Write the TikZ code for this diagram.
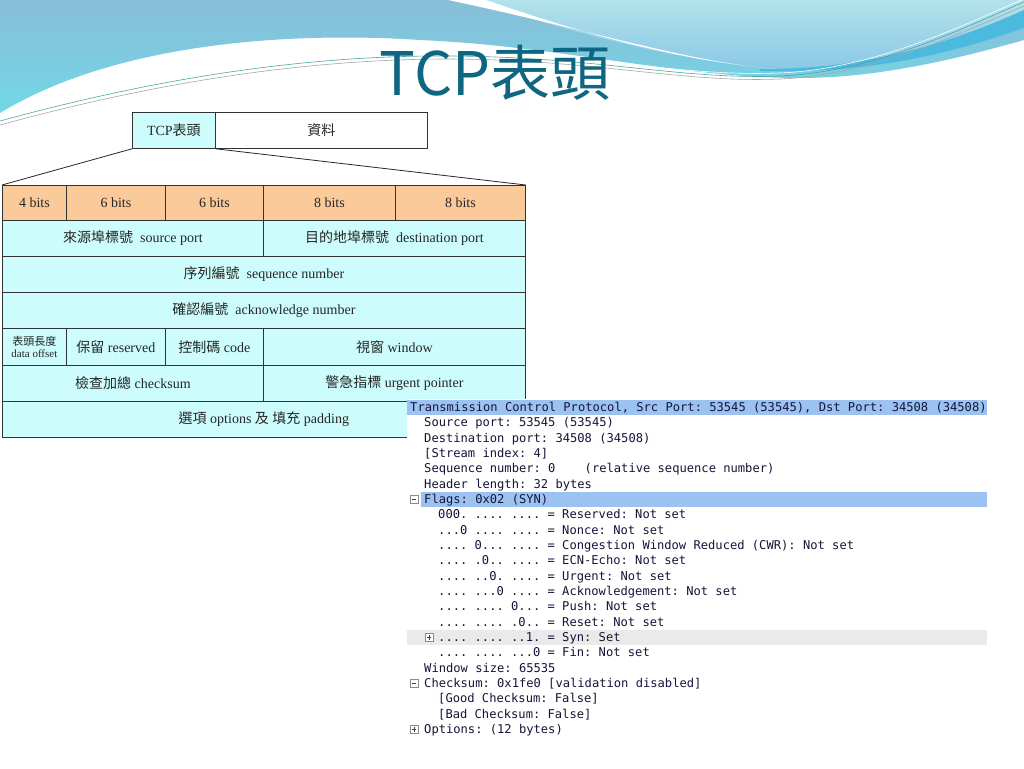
\documentclass[tikz,border=0pt]{standalone}
\usepackage{fontspec}
\setmainfont{Liberation Serif}
\newfontfamily\cjk{Noto Sans CJK TC}
\newfontfamily\wsmono{DejaVu Sans Mono}
\newcommand\zh[1]{{\cjk #1}}
\definecolor{skytop}{HTML}{88BDD8}
\definecolor{skylow}{HTML}{72D8E6}
\definecolor{paletop}{HTML}{B2E2EA}
\definecolor{palelow}{HTML}{8CC8E6}
\definecolor{waveband}{HTML}{4CBADF}
\definecolor{titleteal}{HTML}{0E6680}
\definecolor{cellblue}{HTML}{CCFCFC}
\definecolor{bitorange}{HTML}{FBCA9A}
\definecolor{hlblue}{HTML}{9BC2F0}
\definecolor{synrow}{HTML}{EAEAEA}
\definecolor{wstext}{HTML}{15153A}
\tikzset{
  cell/.style={draw=black!80, line width=0.8pt, fill=cellblue, inner sep=0pt, anchor=north west, minimum height=36pt, text=black!85, font=\fontsize{14}{16}\selectfont},
  bitcell/.style={cell, fill=bitorange, minimum height=35pt},
  wsline/.style={anchor=base west, inner sep=0pt, text=wstext, font=\wsmono\fontsize{12.12}{14}\selectfont\frenchspacing},
  iconbox/.style={draw=black!45, fill=white, minimum size=8pt, inner sep=0pt, line width=0.6pt},
  iconmark/.style={line width=0.8pt, black!75},
  wave/.style={line width=0.6pt}
}

\begin{document}
\begin{tikzpicture}[x=1pt,y=-1pt]
\useasboundingbox (0,0) rectangle (1024,768);
\fill[white] (0,0) rectangle (1024,768);
\shade[top color=skytop, bottom color=skylow] (0,0) -- (1024,0) -- (1024,40) .. controls (960,58) and (880,78) .. (800,78) .. controls (680,78) and (560,46) .. (420,40) .. controls (300,32) and (120,40) .. (0,113) -- cycle;
\shade[top color=paletop, bottom color=palelow] (470,0) .. controls (600,40) and (700,68) .. (800,68) .. controls (900,68) and (980,30) .. (1024,10) -- (1024,0) -- cycle;
\fill[white] (448,0) .. controls (600,32) and (700,66) .. (792,70) .. controls (690,64) and (590,36) .. (486,0) -- cycle;
\fill[waveband] (760,69) .. controls (880,70) and (970,34) .. (1024,10) -- (1024,28) .. controls (960,50) and (880,74) .. (760,71) -- cycle;
\draw[wave, teal!70] (0,121) .. controls (150,80) and (300,55) .. (450,56) .. controls (600,57) and (680,80) .. (780,76) .. controls (880,72) and (980,20) .. (1024,2);
\draw[wave, gray!70] (0,125) .. controls (150,84) and (300,59) .. (450,59) .. controls (600,60) and (680,83) .. (780,79) .. controls (880,75) and (980,24) .. (1024,6);
\draw[wave, white] (0,117) .. controls (150,77) and (300,52) .. (450,53) .. controls (600,54) and (680,77) .. (780,73) .. controls (880,69) and (980,17) .. (1024,-1);

\node[anchor=base, text=titleteal, font=\cjk\fontsize{60}{60}\selectfont] (title) at (495,95) {TCP表頭};

\node[cell, minimum width=83pt] (hdr) at (132,112) {TCP\zh{表頭}};
\node[cell, fill=white, minimum width=212pt] (dat) at (215,112) {\zh{資料}};
\foreach \n/\x/\w/\lbl in {b1/2/64/4, b2/66/99/6, b3/165/98/6, b4/263/132/8, b5/395/130/8}
  \node[bitcell, minimum width=\w*1pt] (\n) at (\x,185) {\lbl\ bits};
\draw[line width=0.8pt, black!85] (hdr.south west) -- (b1.north west) (hdr.south east) -- (b5.north east);
\node[cell, minimum width=261pt] (src) at (2,220) {\zh{來源埠標號}~~source port};
\node[cell, minimum width=262pt] (dst) at (263,220) {\zh{目的地埠標號}~~destination port};
\node[cell, minimum width=523pt] (seq) at (2,256) {\zh{序列編號}~~sequence number};
\node[cell, minimum width=523pt] (ack) at (2,292) {\zh{確認編號}~~acknowledge number};
\node[cell, minimum width=64pt, minimum height=37pt, align=center, font=\fontsize{11}{12.5}\selectfont] (off) at (2,328) {\zh{表頭長度}\\data offset};
\node[cell, minimum width=99pt, minimum height=37pt] (rsv) at (66,328) {\zh{保留} reserved};
\node[cell, minimum width=98pt, minimum height=37pt] (code) at (165,328) {\zh{控制碼} code};
\node[cell, minimum width=262pt, minimum height=37pt] (win) at (263,328) {\zh{視窗} window};
\node[cell, minimum width=261pt] (chk) at (2,365) {\zh{檢查加總} checksum};
\node[cell, minimum width=262pt] (urg) at (263,365) {\zh{警急指標} urgent pointer};
\node[cell, minimum width=523pt] (opt) at (2,401) {\zh{選項} options \zh{及} \zh{填充} padding};

\node[fill=white, anchor=north west, inner sep=0pt, minimum width=580pt, minimum height=343pt] (panel) at (407,399) {};
\fill[hlblue] (407,400) rectangle (987,415);
\fill[hlblue] (421,492) rectangle (987,507);
\fill[synrow] (407,629.5) rectangle (987,645);
\foreach \x/\lbl [count=\i from 0] in {
  410/{Transmission Control Protocol, Src Port: 53545 (53545), Dst Port: 34508 (34508)},
  424/{Source port: 53545 (53545)},
  424/{Destination port: 34508 (34508)},
  424/{[Stream index: 4]},
  424/{Sequence number: 0~~~~(relative sequence number)},
  424/{Header length: 32 bytes},
  424/{Flags: 0x02 (SYN)},
  438/{000. .... .... = Reserved: Not set},
  438/{...0 .... .... = Nonce: Not set},
  438/{.... 0... .... = Congestion Window Reduced (CWR): Not set},
  438/{.... .0.. .... = ECN-Echo: Not set},
  438/{.... ..0. .... = Urgent: Not set},
  438/{.... ...0 .... = Acknowledgement: Not set},
  438/{.... .... 0... = Push: Not set},
  438/{.... .... .0.. = Reset: Not set},
  438/{.... .... ..1. = Syn: Set},
  438/{.... .... ...0 = Fin: Not set},
  424/{Window size: 65535},
  424/{Checksum: 0x1fe0 [validation disabled]},
  438/{[Good Checksum: False]},
  438/{[Bad Checksum: False]},
  424/{Options: (12 bytes)}}
  \node[wsline] (ws\i) at (\x,411.5+15.33*\i) {\lbl};
\foreach \i/\x in {6/414, 15/429, 18/414, 21/414}
  \node[iconbox] (ic\i) at (\x,407.5+15.33*\i) {};
\foreach \i in {6,15,18,21} \draw[iconmark] ([xshift=2]ic\i.west) -- ([xshift=-2]ic\i.east);
\foreach \i in {15,21} \draw[iconmark] ([yshift=2]ic\i.south) -- ([yshift=-2]ic\i.north);
\end{tikzpicture}
\end{document}
